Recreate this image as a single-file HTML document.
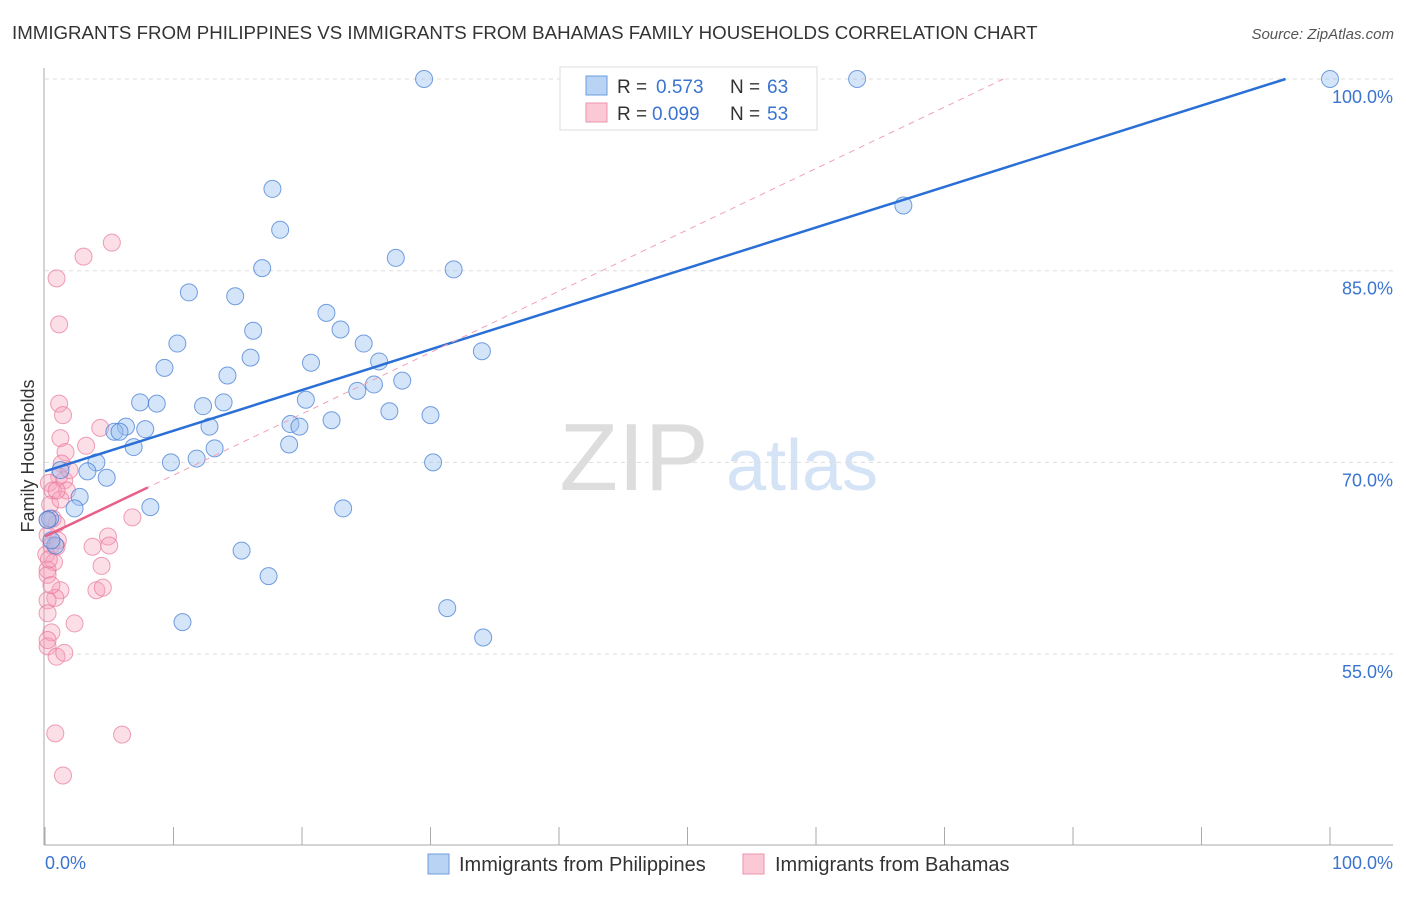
<!DOCTYPE html>
<html><head><meta charset="utf-8"><style>
body{margin:0;background:#fff;font-family:"Liberation Sans",sans-serif}
svg text{font-family:"Liberation Sans",sans-serif}
</style></head><body>
<svg id="c" width="1406" height="892">
<text x="12" y="39" font-size="18.7" fill="#333">IMMIGRANTS FROM PHILIPPINES VS IMMIGRANTS FROM BAHAMAS FAMILY HOUSEHOLDS CORRELATION CHART</text>
<text x="1394" y="39" font-size="15" fill="#555" text-anchor="end" font-style="italic">Source: ZipAtlas.com</text>
<g>
<text x="634" y="490" font-size="96" fill="#ddd" text-anchor="middle" font-family="Liberation Serif,serif">ZIP</text>
<text x="802" y="490" font-size="72" fill="#d4e3f5" text-anchor="middle">atlas</text>
</g>
<g id="grid"></g>
<g id="axes"></g>
<g id="pts"></g>
<g id="lines"></g>
<text transform="translate(34,456) rotate(-90)" font-size="18" fill="#333" text-anchor="middle">Family Households</text>
<text x="45" y="869" font-size="18" fill="#3a74d0">0.0%</text>
<text x="1393" y="869" font-size="18" fill="#3a74d0" text-anchor="end">100.0%</text>
<g>
<rect x="560" y="67" width="257" height="63" fill="#fff" stroke="#ddd"/>
<rect x="586" y="76" width="21" height="19" fill="#b9d3f5" stroke="#6a9ee0"/>
<rect x="586" y="103" width="21" height="19" fill="#fbc8d6" stroke="#ec93ad"/>
<text x="617" y="93" font-size="19" fill="#333">R = </text><text x="656" y="93" font-size="19" fill="#3a74d0">0.573</text>
<text x="730" y="93" font-size="19" fill="#333">N = </text><text x="767" y="93" font-size="19" fill="#3a74d0">63</text>
<text x="617" y="120" font-size="19" fill="#333">R = </text><text x="652" y="120" font-size="19" fill="#3a74d0">0.099</text>
<text x="730" y="120" font-size="19" fill="#333">N = </text><text x="767" y="120" font-size="19" fill="#3a74d0">53</text>
</g>
<g>
<rect x="428" y="854" width="21" height="20" fill="#b9d3f5" stroke="#6a9ee0"/>
<text x="459" y="871" font-size="20" fill="#333">Immigrants from Philippines</text>
<rect x="743" y="854" width="21" height="20" fill="#fbc8d6" stroke="#ec93ad"/>
<text x="775" y="871" font-size="20" fill="#333">Immigrants from Bahamas</text>
</g>
</svg>
<script>
const yTicks=[100,85,70,55];
const yTickLabels=["100.0%","85.0%","70.0%","55.0%"];
const xTicks=[0,10,20,30,40,50,60,70,80,90,100];
const blueX=[29.5,63.2,100,17.7,66.8,18.3,27.3,16.9,31.8,11.2,14.8,21.9,16.2,23.0,10.3,24.8,34.0,16.0,9.3,20.7,26.0,14.2,25.6,24.3,27.8,7.4,8.7,13.9,20.3,12.3,26.8,30.0,22.3,19.1,12.8,6.3,7.8,19.8,5.4,5.8,6.9,19.0,13.2,11.8,9.8,4.0,30.2,3.3,4.8,2.7,2.3,8.2,23.2,0.4,0.8,15.3,17.4,31.3,10.7,34.1,0.2,0.5,1.2];
const blueY=[100,100,100,91.4,90.1,88.2,86.0,85.2,85.1,83.3,83.0,81.7,80.3,80.4,79.3,79.3,78.7,78.2,77.4,77.8,77.9,76.8,76.1,75.6,76.4,74.7,74.6,74.7,74.9,74.4,74.0,73.7,73.3,73.0,72.8,72.8,72.6,72.8,72.4,72.4,71.2,71.4,71.1,70.3,70.0,70.0,70.0,69.3,68.8,67.3,66.4,66.5,66.4,65.6,63.5,63.1,61.1,58.6,57.5,56.3,65.5,63.9,69.4];
const pinkX=[0.9,3.0,5.2,1.1,1.1,1.4,1.2,1.6,4.3,3.2,1.3,1.1,0.3,1.5,1.7,0.6,0.6,0.9,6.8,4.9,3.7,5.0,0.2,0.5,0.9,0.1,0.7,4.4,0.2,4.0,4.5,1.2,0.8,0.2,0.2,2.3,0.5,0.2,0.9,1.5,0.8,6.0,1.4,0.2,0.4,0.2,1.0,0.3,1.2,1.9,0.5,0.2,0.9];
const pinkY=[84.4,86.1,87.2,80.8,74.6,73.7,71.9,70.8,72.7,71.3,69.9,68.9,68.4,68.6,67.8,67.8,65.6,65.2,65.7,64.2,63.4,63.5,64.3,63.5,63.4,62.8,62.2,61.9,61.6,60.0,60.2,60.0,59.4,59.2,58.2,57.4,56.7,55.6,54.8,55.1,48.8,48.7,45.5,65.5,66.7,61.2,63.9,62.4,67.1,69.4,60.4,56.1,67.8];
const blueTrend=[69.3,0.318];
const pinkTrend=[64.2,0.48];
const NS="http://www.w3.org/2000/svg";
const X=v=>45+v*12.85, Y=v=>79+(100-v)*12.78;
function mk(t,a,p){const e=document.createElementNS(NS,t);for(const k in a)e.setAttribute(k,a[k]);p.appendChild(e);return e;}
const grid=document.getElementById('grid'),axes=document.getElementById('axes'),pts=document.getElementById('pts'),lines=document.getElementById('lines');
yTicks.forEach((v,i)=>{
 const l=mk('line',{x1:45,x2:1393,y1:Y(v),y2:Y(v),stroke:'#ddd','stroke-dasharray':'4,4'},grid);
 
 
 const t=mk('text',{x:1393,y:Y(v)+24,'font-size':18,fill:'#3a74d0','text-anchor':'end'},grid);
 t.textContent=yTickLabels[i];
 
 
});
mk('line',{x1:44,x2:44,y1:68,y2:845,stroke:'#aaa'},axes);
mk('line',{x1:44,x2:1393,y1:845,y2:845,stroke:'#aaa'},axes);
xTicks.forEach(v=>{
 const l=mk('line',{x1:X(v),x2:X(v),y1:827,y2:845,stroke:'#aaa'},axes);
 
 
});
pinkX.forEach((x,i)=>{
 const c=mk('circle',{cx:X(x),cy:Y(pinkY[i]),r:8.5,fill:'rgba(245,160,185,0.35)',stroke:'rgba(232,120,155,0.7)','stroke-width':1},pts);
 
 
});
blueX.forEach((x,i)=>{
 const c=mk('circle',{cx:X(x),cy:Y(blueY[i]),r:8.5,fill:'rgba(150,190,240,0.4)',stroke:'rgba(60,120,210,0.7)','stroke-width':1},pts);
 
 
});
const bxEnd=(100-blueTrend[0])/blueTrend[1];
const bl=mk('line',{x1:X(0),y1:Y(blueTrend[0]),x2:X(bxEnd),y2:Y(100),stroke:'#2a6fd6','stroke-width':2.5},lines);


const pxEnd=(100-pinkTrend[0])/pinkTrend[1];
const pd=mk('line',{x1:X(0),y1:Y(pinkTrend[0]),x2:X(pxEnd),y2:Y(100),stroke:'#f0a0b8','stroke-width':1,'stroke-dasharray':'6,5'},lines);


const ps=mk('line',{x1:X(0),y1:Y(pinkTrend[0]),x2:X(8),y2:Y(pinkTrend[0]+8*pinkTrend[1]),stroke:'#e8608a','stroke-width':2.5},lines);


</script>
</body></html>
